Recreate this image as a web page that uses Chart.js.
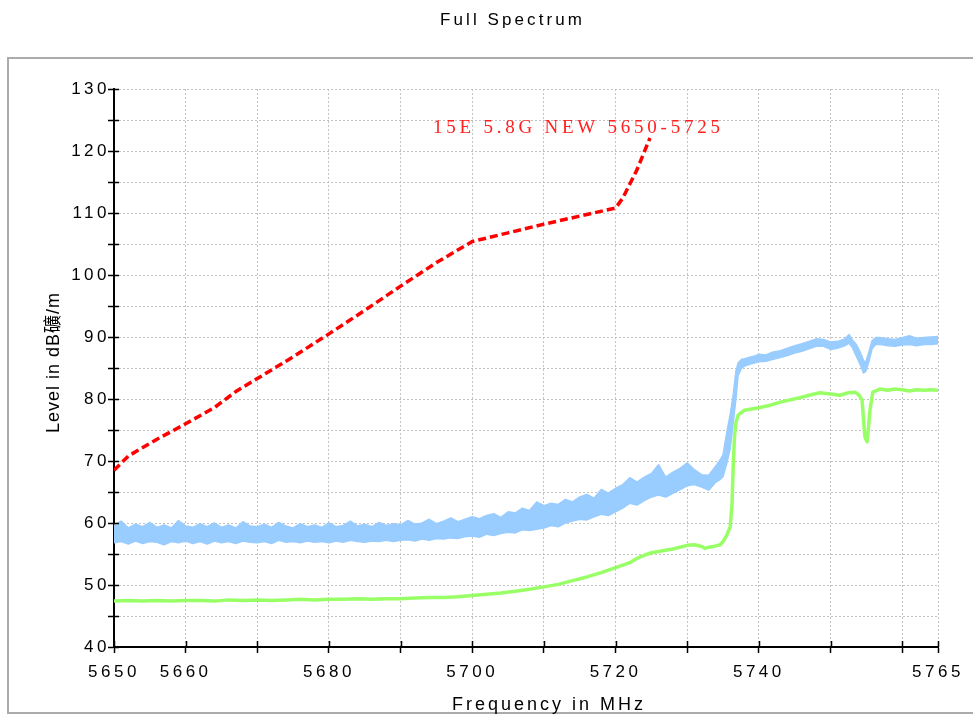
<!DOCTYPE html>
<html>
<head>
<meta charset="utf-8">
<script src="https://cdn.jsdelivr.net/npm/chart.js@4.4.1/dist/chart.umd.min.js"></script>
<style>
html,body{margin:0;padding:0;background:#fff;}
canvas{display:block;}
</style>
</head>
<body>
<canvas id="c" width="973" height="715"></canvas>
<script>
// ---------------- DATA ----------------
const chartTitle = 'Full Spectrum';
const xTitle = 'Frequency in MHz';
const yTitle = 'Level in dB礦/m';
const limitLabel = '15E 5.8G NEW 5650-5725';

const xTickValues = [5650,5660,5670,5680,5690,5700,5710,5720,5730,5740,5750,5760,5765];
const xTickLabels = [5650,5660,5680,5700,5720,5740,5765];
const yTickLabels = [40,50,60,70,80,90,100,110,120,130];

// Limit line (red dashed)
const limitFreq = [5650,5652,5656,5660,5664,5667,5670,5675,5680,5685,5690,5695,5700,5705,5710,5715,5720,5721,5723,5724.8];
const limitVal  = [68.5,70.8,73.5,76.0,78.6,81.2,83.3,86.8,90.5,94.3,98.2,102.0,105.4,106.8,108.2,109.5,110.8,112.4,117.0,122.1];

// Peak trace (light blue) – upper and lower edge of the noise band
const blueFreq = [5650,5651,5652,5653,5654,5655,5656,5657,5658,5659,5660,5661,5662,5663,5664,5665,5666,5667,5668,5669,
  5670,5671,5672,5673,5674,5675,5676,5677,5678,5679,5680,5681,5682,5683,5684,5685,5686,5687,5688,5689,
  5690,5691,5692,5693,5694,5695,5696,5697,5698,5699,5700,5701,5702,5703,5704,5705,5706,5707,5708,5709,
  5710,5711,5712,5713,5714,5715,5716,5717,5718,5719,5720,5721,5722,5723,5724,5725,5726,5727,5728,5729,
  5730,5731,5732,5733,5734,5734.6,5735,5735.5,5736,5736.4,5736.8,5737.1,5737.6,5738,5739,5740,5741,5742,5743,5744,
  5745,5746,5747,5748,5749,5750,5751,5752,5752.6,5753,5753.6,5754.2,5754.6,5754.9,5755.3,5755.8,5756.3,5757,5758,5759,
  5760,5761,5762,5763,5764,5765];
const blueHi = [59.6,60.3,59.2,59.8,59.4,60.1,59.3,59.7,59.2,60.4,59.5,59.3,59.9,59.4,60.0,59.3,59.7,59.2,60.2,59.5,
  59.4,59.8,59.3,60.1,59.5,59.2,59.9,59.4,59.7,59.3,60.0,59.4,59.6,60.3,59.5,59.8,59.4,60.1,59.6,59.9,
  59.7,60.4,59.8,60.0,60.6,59.9,60.3,60.8,60.2,60.6,61.0,60.7,61.2,61.5,60.9,61.8,61.6,62.4,62.0,63.4,
  62.8,63.2,63.0,63.8,63.4,64.2,64.6,64.0,65.4,64.8,65.6,66.2,67.3,66.6,67.4,68.0,69.4,67.4,68.2,68.8,
  69.7,68.6,67.8,67.7,69.2,70.2,71.0,74.5,77.5,80.5,84.5,85.8,86.4,86.5,86.8,87.2,87.1,87.6,87.8,88.2,
  88.6,88.9,89.3,89.7,89.6,89.2,89.3,89.7,90.4,89.6,88.8,87.4,86.2,85.9,87.4,89.4,89.9,89.9,89.7,89.6,
  89.9,90.2,89.8,89.9,90.0,90.1];
const blueLo = [56.8,57.0,56.6,57.1,56.7,57.0,56.9,56.5,57.0,56.8,57.1,56.7,57.0,56.6,57.1,56.8,57.0,56.7,57.1,56.9,
  56.8,57.0,56.7,57.2,56.9,57.0,56.8,57.1,56.9,57.0,56.8,57.1,56.9,57.2,57.0,56.9,57.1,57.0,57.2,57.0,
  57.2,57.3,57.1,57.4,57.2,57.5,57.4,57.6,57.5,57.8,57.9,57.7,58.2,58.0,58.3,58.5,58.4,58.9,58.8,59.0,
  59.2,59.6,59.4,60.0,60.3,60.6,60.5,61.0,61.4,61.2,61.8,62.4,63.2,62.9,63.6,64.2,64.5,64.2,64.8,65.4,
  66.0,66.2,65.8,65.3,66.6,67.0,67.5,69.5,72.0,76.0,80.0,83.8,85.0,85.3,85.7,86.0,86.1,86.4,86.7,87.0,
  87.4,87.7,88.1,88.5,88.5,88.0,88.2,88.6,89.0,88.4,86.9,85.4,84.2,84.4,85.8,88.1,88.8,88.8,88.6,88.5,
  88.7,88.8,88.6,88.8,88.8,88.9];

// Average trace (green)
const greenFreq = [5650,5652,5654,5656,5658,5660,5662,5664,5666,5668,5670,5672,5674,5676,5678,5680,5682,5684,5686,5688,
  5690,5692,5694,5696,5698,5700,5702,5704,5706,5708,5710,5712,5714,5716,5718,5720,5722,5723,5724,5725,
  5726,5728,5730,5731,5732,5732.5,5733,5734,5734.6,5735,5735.5,5736,5736.25,5736.4,5736.6,5736.8,5737.1,5738,5740,5741.6,
  5743,5745.7,5747,5748.5,5750,5751.3,5752.5,5753.4,5754,5754.4,5754.65,5754.8,5755.1,5755.3,5755.5,5755.9,5756.9,5758,5759,5760,
  5761,5762,5763,5764,5765];
const greenVal = [47.4,47.5,47.4,47.5,47.4,47.5,47.5,47.4,47.6,47.5,47.6,47.5,47.6,47.7,47.6,47.7,47.7,47.8,47.7,47.8,
  47.8,47.9,48.0,48.0,48.1,48.3,48.5,48.7,49.0,49.3,49.7,50.1,50.7,51.3,52.0,52.8,53.6,54.3,54.8,55.2,
  55.4,55.8,56.4,56.5,56.2,55.9,56.1,56.3,56.5,57.0,58.0,59.4,63.0,68.5,74.0,76.2,77.4,78.2,78.6,79.0,
  79.5,80.2,80.6,81.0,80.8,80.6,81.0,81.1,80.6,79.8,76.0,73.9,73.1,75.5,78.2,81.1,81.6,81.4,81.6,81.5,
  81.3,81.5,81.4,81.5,81.4];

// ---------------- CHART ----------------
const FONT = '"Liberation Sans", Arial, "Noto Sans CJK SC", sans-serif';
const pts = (xs, ys) => xs.map((x, i) => ({x: x, y: ys[i]}));

function drawSpaced(ctx, text, x1, x2, y, font, color) {
  ctx.save();
  ctx.font = font;
  ctx.fillStyle = color;
  ctx.letterSpacing = '0px';
  const w = ctx.measureText(text).width;
  const s = (x2 - x1 - w) / (text.length - 1);
  ctx.letterSpacing = s + 'px';
  ctx.textAlign = 'left';
  ctx.textBaseline = 'alphabetic';
  ctx.fillText(text, x1, y);
  ctx.restore();
}

const decor = {
  id: 'decor',
  beforeDraw(chart) {
    const ctx = chart.ctx;
    ctx.letterSpacing = '3.5px';
    ctx.save();
    ctx.strokeStyle = '#ababab';
    ctx.lineWidth = 2;
    ctx.strokeRect(8, 58, 980, 655);
    ctx.restore();
  },
  afterDraw(chart) {
    const ctx = chart.ctx;
    const xs = chart.scales.x, ys = chart.scales.y;
    const ca = chart.chartArea;
    ctx.save();
    ctx.letterSpacing = '0px';
    ctx.strokeStyle = '#000';
    ctx.lineWidth = 1.5;
    ctx.beginPath();
    xTickValues.forEach(v => {
      const px = Math.round(xs.getPixelForValue(v)) + 0.5;
      ctx.moveTo(px, ca.bottom); ctx.lineTo(px, ca.bottom - 6);
    });
    for (let v = 40; v <= 130; v += 5) {
      const py = Math.round(ys.getPixelForValue(v)) + 0.5;
      ctx.moveTo(ca.left, py); ctx.lineTo(ca.left + 5, py);
    }
    ctx.stroke();
    ctx.restore();

    drawSpaced(ctx, chartTitle, 440, 582, 25, '17px ' + FONT, '#000');
    drawSpaced(ctx, xTitle, 452, 643, 710, '18px ' + FONT, '#000');
    drawSpaced(ctx, limitLabel, 433, 720, 133, '19px "Liberation Serif", "Times New Roman", serif', '#ff2020');
    ctx.save();
    ctx.translate(59, 363);
    ctx.rotate(-Math.PI / 2);
    drawSpaced(ctx, yTitle, -70, 70, 0, '18px ' + FONT, '#000');
    ctx.restore();
  }
};

const gridCommon = {
  color: '#c2c2c2',
  lineWidth: 1,
  drawTicks: true,
  tickLength: 6,
  tickColor: '#000',
  tickWidth: 1.5
};

new Chart(document.getElementById('c'), {
  type: 'line',
  data: {
    datasets: [
      {
        label: 'Limit', data: pts(limitFreq, limitVal),
        borderColor: '#ff0000', borderWidth: 3.5, borderDash: [8, 4],
        pointRadius: 0, fill: false, tension: 0
      },
      {
        label: 'Peak', data: pts(blueFreq, blueHi),
        borderColor: '#99ccff', backgroundColor: '#99ccff', borderWidth: 1.5,
        pointRadius: 0, fill: '+1', tension: 0
      },
      {
        label: 'PeakLow', data: pts(blueFreq, blueLo),
        borderColor: '#99ccff', borderWidth: 1.5,
        pointRadius: 0, fill: false, tension: 0
      },
      {
        label: 'Average', data: pts(greenFreq, greenVal),
        borderColor: '#99ff66', borderWidth: 3.5,
        pointRadius: 0, fill: false, tension: 0
      }
    ]
  },
  options: {
    responsive: false,
    animation: false,
    devicePixelRatio: 1,
    layout: { padding: { top: 89, right: 35, left: 0, bottom: 0 } },
    plugins: { legend: { display: false }, title: { display: false }, tooltip: { enabled: false } },
    elements: { line: { borderJoinStyle: 'round' } },
    scales: {
      x: {
        type: 'linear', min: 5650, max: 5765,
        afterBuildTicks: s => { s.ticks = xTickValues.map(v => ({value: v})); },
        afterFit: s => { s.height = 68; },
        ticks: {
          autoSkip: false, maxRotation: 0, padding: 9,
          color: '#000', font: { family: FONT, size: 17 },
          callback: v => xTickLabels.includes(v) ? String(v) : ''
        },
        grid: gridCommon,
        border: { display: true, color: '#000', width: 2, dash: [2, 2] }
      },
      y: {
        type: 'linear', min: 40, max: 130,
        afterFit: s => { s.width = 114; },
        ticks: {
          stepSize: 5, autoSkip: false, padding: -2,
          color: '#000', font: { family: FONT, size: 17 },
          callback: v => yTickLabels.includes(v) ? String(v) : ''
        },
        grid: gridCommon,
        border: { display: true, color: '#000', width: 2, dash: [2, 2] }
      }
    }
  },
  plugins: [decor]
});
</script>
</body>
</html>
